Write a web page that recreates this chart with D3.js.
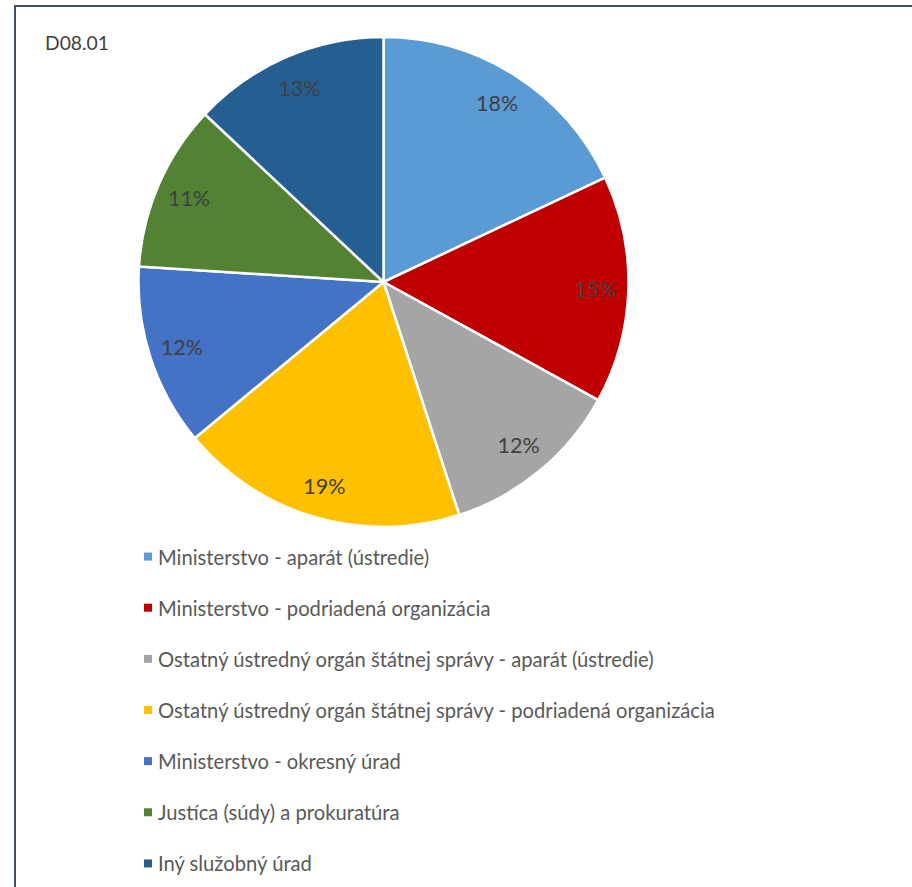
<!DOCTYPE html>
<html>
<head>
<meta charset="utf-8">
<script src="https://cdn.jsdelivr.net/npm/d3@7"></script>
<style>
  html, body { margin: 0; padding: 0; background: #fff; }
  svg { display: block; }
</style>
</head>
<body>
<svg id="chart" width="912" height="887"></svg>
<script>
// Share of employees by type of service office
const categories = [
  "Ministerstvo - aparát (ústredie)",
  "Ministerstvo - podriadená organizácia",
  "Ostatný ústredný orgán štátnej správy - aparát (ústredie)",
  "Ostatný ústredný orgán štátnej správy - podriadená organizácia",
  "Ministerstvo - okresný úrad",
  "Justíca (súdy) a prokuratúra",
  "Iný služobný úrad"
];
const values = [18, 15, 12, 19, 12, 11, 13];
const colors = ["#5B9BD5", "#C00000", "#A5A5A5", "#FFC000", "#4472C4", "#548235", "#255E91"];
const title = "D08.01";

const svg = d3.select("#chart");
const font = "Lato, sans-serif";

// outer frame
svg.append("rect")
  .attr("x", 15).attr("y", 6)
  .attr("width", 920).attr("height", 900)
  .attr("fill", "none")
  .attr("stroke", "#3E4E6C")
  .attr("stroke-width", 2);

svg.append("text")
  .attr("x", 45).attr("y", 50)
  .attr("font-family", font)
  .attr("font-size", 19.3)
  .attr("fill", "#404040")
  .text(title);

const cx = 383.5, cy = 282, radius = 245;
const data = categories.map((c, i) => ({ name: c, value: values[i], color: colors[i] }));

const pie = d3.pie().value(d => d.value).sort(null);
const arc = d3.arc().innerRadius(0).outerRadius(radius);
const labelArc = d3.arc().innerRadius(radius * 0.865).outerRadius(radius * 0.865);

const g = svg.append("g").attr("transform", `translate(${cx},${cy})`);
const arcs = pie(data);

g.selectAll("path.slice")
  .data(arcs)
  .join("path")
  .attr("class", "slice")
  .attr("d", arc)
  .attr("fill", d => d.data.color)
  .attr("stroke", "#fff")
  .attr("stroke-width", 2.5)
  .attr("stroke-linejoin", "round");

g.selectAll("text.pct")
  .data(arcs)
  .join("text")
  .attr("class", "pct")
  .attr("transform", d => `translate(${labelArc.centroid(d)})`)
  .attr("text-anchor", "middle")
  .attr("dominant-baseline", "central")
  .attr("font-family", font)
  .attr("font-size", 21.5)
  .attr("fill", "#404040")
  .text(d => d.data.value + "%");

// legend
const legendY = d3.scaleBand()
  .domain(categories)
  .range([531, 889])
  .padding(0);

const leg = svg.append("g");
const item = leg.selectAll("g")
  .data(data)
  .join("g")
  .attr("transform", d => `translate(0,${legendY(d.name) + legendY.bandwidth() / 2})`);

item.append("rect")
  .attr("x", 144).attr("y", -4)
  .attr("width", 8).attr("height", 8)
  .attr("fill", d => d.color);

item.append("text")
  .attr("x", 158).attr("y", 0)
  .attr("dominant-baseline", "central")
  .attr("font-family", font)
  .attr("font-size", 20.2)
  .attr("fill", "#595959")
  .text(d => d.name);
</script>
</body>
</html>
